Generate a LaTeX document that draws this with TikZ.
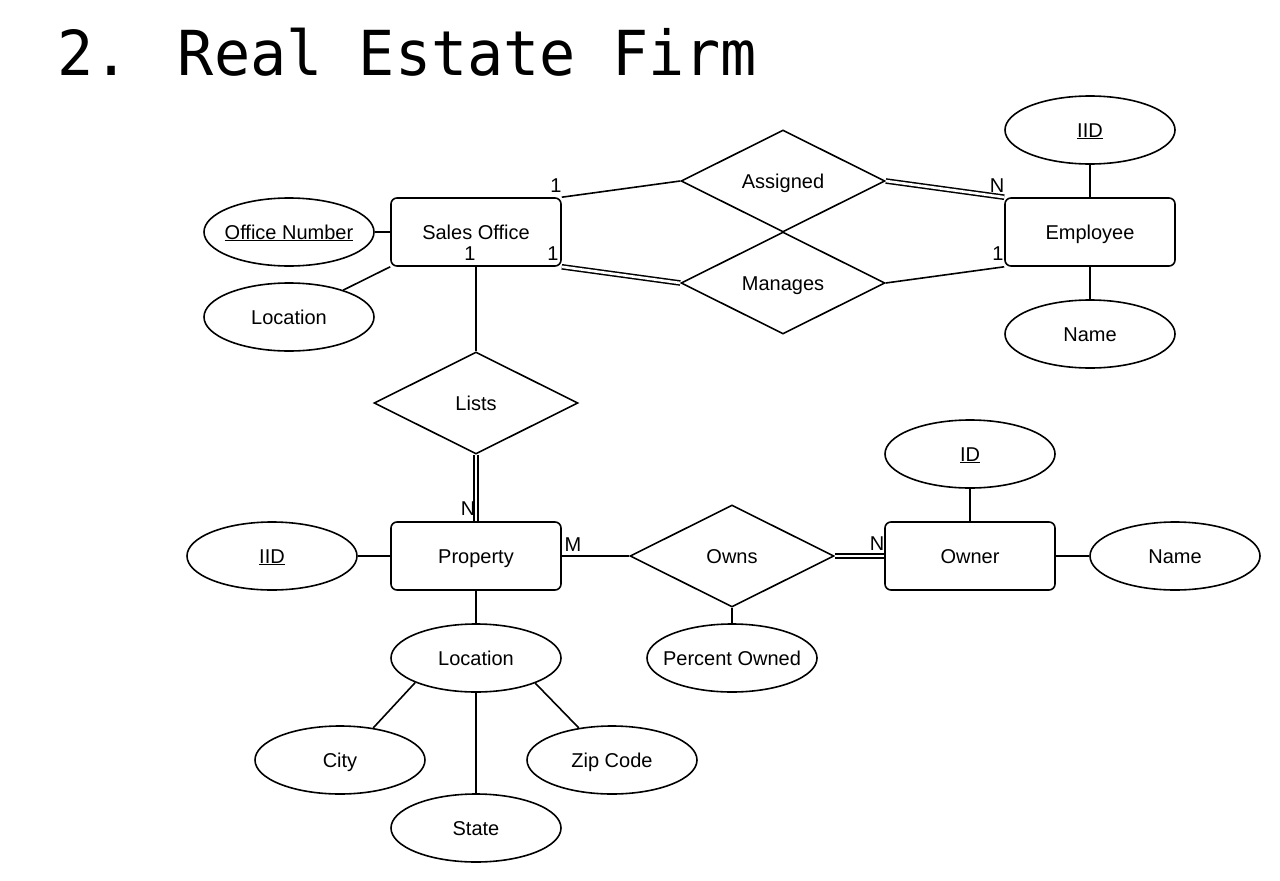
\documentclass[tikz,border=0pt]{standalone}
\usepackage{fontspec}
\setmainfont{Liberation Sans}
\newfontfamily\titlefont[FakeStretch=0.97]{DejaVu Sans Mono}
\usetikzlibrary{shapes.geometric}
\newcommand{\zw}[1]{\makebox[0pt]{#1}}
\begin{document}
\begin{tikzpicture}[x=1pt,y=-1pt,
  every node/.style={font=\fontsize{20}{24}\selectfont},
  line/.style={line width=1.6pt},
  dbl/.style={double, double distance=2.6pt, line width=1.5pt},
  entity/.style={draw, line width=1.6pt, rounded corners=6pt, minimum width=170pt, minimum height=68pt, inner sep=0pt, text height=14pt, text depth=0pt},
  attr/.style={draw, line width=1.6pt, ellipse, minimum width=170pt, minimum height=68pt, inner sep=0pt, text height=14pt, text depth=0pt},
  rel/.style={draw, line width=1.6pt, diamond, minimum width=204pt, minimum height=102pt, inner sep=0pt, text height=14pt, text depth=0pt},
  card/.style={inner sep=0pt, text height=14pt, text depth=0pt}
]
\useasboundingbox (0,0) rectangle (1280,881);
\node[anchor=base west, inner sep=0pt, font=\titlefont\fontsize{62}{70}\selectfont] (title) at (57,75) {2. Real Estate Firm};

% entities
\node[entity] (so) at (476,232) {\zw{Sales Office}};
\node[entity] (emp) at (1090,232) {\zw{Employee}};
\node[entity] (prop) at (476,556) {\zw{Property}};
\node[entity] (own) at (970,556) {\zw{Owner}};

% relationships
\node[rel] (asg) at (783,181) {\zw{Assigned}};
\node[rel] (mng) at (783,283) {\zw{Manages}};
\node[rel] (lst) at (476,403) {\zw{Lists}};
\node[rel] (owns) at (732,556) {\zw{Owns}};

% attributes
\node[attr] (eiid) at (1090,130) {\zw{\underline{IID}}};
\node[attr] (ename) at (1090,334) {\zw{Name}};
\node[attr] (onum) at (289,232) {\zw{\underline{Office Number}}};
\node[attr] (sloc) at (289,317) {\zw{Location}};
\node[attr] (oid) at (970,454) {\zw{\underline{ID}}};
\node[attr] (oname) at (1175,556) {\zw{Name}};
\node[attr] (piid) at (272,556) {\zw{\underline{IID}}};
\node[attr] (ploc) at (476,658) {\zw{Location}};
\node[attr] (pct) at (732,658) {\zw{Percent Owned}};
\node[attr] (city) at (340,760) {\zw{City}};
\node[attr] (state) at (476,828) {\zw{State}};
\node[attr] (zip) at (612,760) {\zw{Zip Code}};

% connectors
\draw[line] (so.north east) -- (asg.west);
\draw[dbl] (asg.east) -- (emp.north west);
\draw[dbl] (so.south east) -- (mng.west);
\draw[line] (mng.east) -- (emp.south west);
\draw[line] (so.south) -- (lst.north);
\draw[dbl] (lst.south) -- (prop.north);
\draw[line] (prop.east) -- (owns.west);
\draw[dbl] (owns.east) -- (own.west);
\draw[line] (owns.south) -- (pct.north);
\draw[line] (own.north) -- (oid.south);
\draw[line] (own.east) -- (oname.west);
\draw[line] (prop.west) -- (piid.east);
\draw[line] (prop.south) -- (ploc.north);
\draw[line] (ploc.202.6) -- (city.44);
\draw[line] (ploc.south) -- (state.north);
\draw[line] (ploc.337.4) -- (zip.136);
\draw[line] (so.west) -- (onum.east);
\draw[line] (sloc) -- (so.south west);
\draw[line] (emp.north) -- (eiid.south);
\draw[line] (emp.south) -- (ename.north);

% cardinalities
\node[card] (c1) at (556,185) {1};
\node[card] (c2) at (997,185) {N};
\node[card] (c3) at (470,253) {1};
\node[card] (c4) at (553,253) {1};
\node[card] (c5) at (998,253) {1};
\node[card] (c6) at (468,508) {N};
\node[card] (c7) at (573,544) {M};
\node[card] (c8) at (877,543) {N};
\end{tikzpicture}
\end{document}
